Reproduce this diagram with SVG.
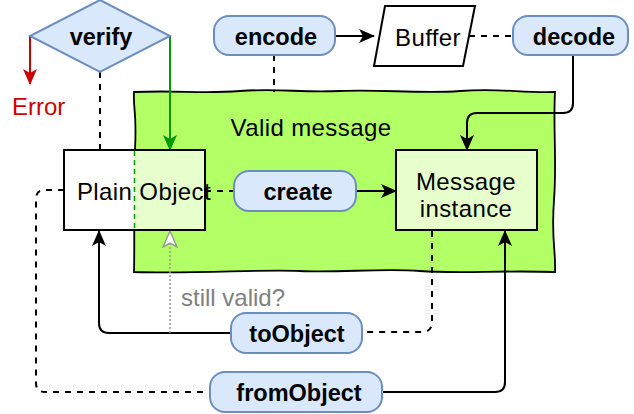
<svg xmlns="http://www.w3.org/2000/svg" width="634" height="414" viewBox="0 0 634 414">
<style>
text{font-family:"Liberation Sans",Arial,sans-serif;font-size:24px;fill:#000}
.b{font-weight:bold;text-anchor:middle;font-size:23.5px}
.c{text-anchor:middle;letter-spacing:0.4px}
.lbl{fill:#dae8fc;stroke:#6c8ebf;stroke-width:2}
.box{stroke:#000;stroke-width:2}
.ln{fill:none;stroke:#000;stroke-width:2}
.d{stroke-dasharray:6 6}
</style>
<defs>
<marker id="ab" viewBox="0 0 16 14" refX="15" refY="7" markerWidth="16" markerHeight="14" markerUnits="userSpaceOnUse" orient="auto">
<path d="M0,0 L16,7 L0,14 L4,7 Z" fill="#000"/>
</marker>
<marker id="ag" viewBox="0 0 16 14" refX="15" refY="7" markerWidth="16" markerHeight="14" markerUnits="userSpaceOnUse" orient="auto">
<path d="M0,0 L16,7 L0,14 L4,7 Z" fill="#009900"/>
</marker>
<marker id="ar" viewBox="0 0 16 14" refX="15" refY="7" markerWidth="16" markerHeight="14" markerUnits="userSpaceOnUse" orient="auto">
<path d="M0,0 L16,7 L0,14 L4,7 Z" fill="#cc0000"/>
</marker>
<marker id="ao" viewBox="-1 -1 18 16" refX="15" refY="7" markerWidth="18" markerHeight="16" markerUnits="userSpaceOnUse" orient="auto">
<path d="M0,0 L16,7 L0,14 L4,7 Z" fill="#fff" stroke="#999" stroke-width="1.5"/>
</marker>
</defs>

<g id="valid-area">
<path d="M134,92 C180,90 200,94 240,91 S300,93 340,91 S420,94 460,91 S520,93 555,92 C553,130 557,160 554,200 S556,250 555,272 C500,270 460,274 420,271 S340,273 300,271 S200,274 134,272 C135,230 133,190 135,150 S133,110 134,92 Z" fill="#b3ff66" stroke="#000" stroke-width="1.8"/>
<text x="311" y="136" class="c">Valid message</text>
</g>

<g id="connectors">
<line x1="335" y1="36" x2="374" y2="36" class="ln" marker-end="url(#ab)"/>
<line x1="469" y1="36" x2="513" y2="36" class="ln d"/>
<line x1="274" y1="55" x2="274" y2="92" class="ln d"/>
<path d="M573,55 V103 Q573,113 563,113 H477 Q467,113 467,123 V150" class="ln" marker-end="url(#ab)"/>
<line x1="100" y1="72" x2="100" y2="150" class="ln d"/>
<line x1="30" y1="36" x2="30" y2="84" fill="none" stroke="#cc0000" stroke-width="2" marker-end="url(#ar)"/>
<line x1="170" y1="36" x2="170" y2="150" fill="none" stroke="#009900" stroke-width="2" marker-end="url(#ag)"/>
<line x1="205" y1="191" x2="234" y2="191" class="ln d"/>
<line x1="356" y1="191" x2="396" y2="191" class="ln" marker-end="url(#ab)"/>
<path d="M64,190 H45 Q36,190 36,199 V383 Q36,392 45,392 H210" class="ln d"/>
<path d="M382,392 H495 Q505,392 505,382 V231" class="ln" marker-end="url(#ab)"/>
<path d="M231,333 H109 Q99,333 99,323 V231" class="ln" marker-end="url(#ab)"/>
<path d="M432,231 V322 Q432,332 422,332 H362" class="ln d"/>
<path d="M170,333 V232" fill="none" stroke="#999" stroke-width="1.5" stroke-dasharray="2 2" marker-end="url(#ao)"/>
<text x="181" y="306" style="fill:#808080">still valid?</text>
</g>

<g id="verify">
<path d="M100,0 L170,36 L100,72 L30,36 Z" class="lbl"/>
<text x="101" y="45" class="b">verify</text>
</g>
<g id="error">
<text x="12" y="115" font-size="23" style="fill:#cc0000">Error</text>
</g>

<g id="encode">
<rect x="214" y="16" width="121" height="39" rx="15" class="lbl"/>
<text x="276" y="45" class="b">encode</text>
</g>

<g id="buffer">
<path d="M385,6 L475,6 L463,66 L374,66 Z" fill="#fff" class="box" stroke-width="1.5"/>
<text x="428" y="46" class="c" font-size="22.5px">Buffer</text>
</g>

<g id="decode">
<rect x="513" y="16" width="115" height="39" rx="15" class="lbl"/>
<text x="574" y="45" class="b">decode</text>
</g>

<g id="plain-object">
<rect x="64" y="150" width="141" height="80" fill="#fff"/>
<rect x="134" y="150" width="71" height="80" fill="#e6ffcc"/>
<line x1="134.5" y1="151" x2="134.5" y2="229" stroke="#009900" stroke-width="1.5" stroke-dasharray="5 4"/>
<rect x="64" y="150" width="141" height="80" fill="none" class="box"/>
<text x="144" y="200" class="c">Plain Object</text>
</g>

<g id="create">
<rect x="234" y="171" width="122" height="40" rx="15" class="lbl"/>
<text x="298" y="200" class="b">create</text>
</g>

<g id="message-instance">
<rect x="396" y="150" width="141" height="80" fill="#e6ffcc" class="box"/>
<text x="466" y="190" class="c">Message</text>
<text x="466" y="217" class="c">instance</text>
</g>

<g id="toObject">
<rect x="231" y="313" width="131" height="40" rx="15" class="lbl"/>
<text x="297" y="342" class="b">toObject</text>
</g>

<g id="fromObject">
<rect x="210" y="372" width="172" height="40" rx="15" class="lbl"/>
<text x="299" y="401" class="b">fromObject</text>
</g>
</svg>
